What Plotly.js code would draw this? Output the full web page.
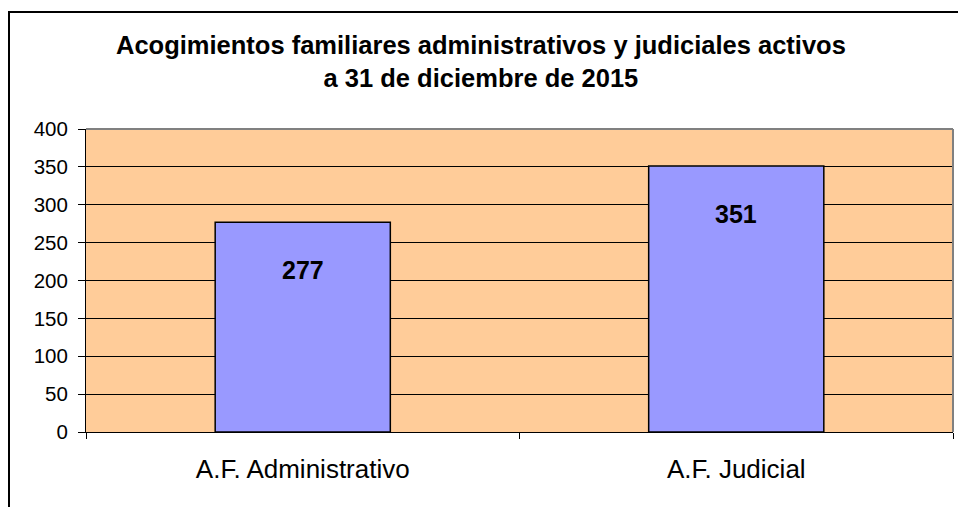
<!DOCTYPE html>
<html>
<head>
<meta charset="utf-8">
<script src="https://cdn.plot.ly/plotly-3.0.1.min.js"></script>
<style>html,body{margin:0;padding:0;background:#fff;}#chart{width:958px;height:507px;}</style>
</head>
<body>
<div id="chart"></div>
<script>
const categories = ["A.F. Administrativo", "A.F. Judicial"];
const values = [277, 351];
const yTicks = [0, 50, 100, 150, 200, 250, 300, 350, 400];
const titleText = "Acogimientos familiares administrativos y judiciales activos<br>a 31 de diciembre de 2015";

const W = 958, H = 507;
const L = 86, R = 5, T = 129, B = 75;
const pw = W - L - R, ph = H - T - B;
const px = x => (x - L) / pw;
const py = y => (H - B - y) / ph;

const trace = {
  type: "bar",
  x: categories,
  y: values,
  marker: { color: "#9999FF", line: { color: "#000000", width: 1.5 } },
  hoverinfo: "none"
};

const annotations = categories.map((c, i) => ({
  x: c, y: values[i], xref: "x", yref: "y",
  text: "<b>" + values[i] + "</b>",
  showarrow: false, yshift: -48, yanchor: "middle",
  font: { family: "Liberation Sans, Arial, sans-serif", size: 25, color: "#000" }
}));

const shapes = [
  { type: "line", xref: "paper", yref: "paper", x0: 0, x1: 1, y0: 1, y1: 1, line: { color: "#808080", width: 2 } },
  { type: "line", xref: "paper", yref: "paper", x0: 1, x1: 1, y0: 0, y1: 1, line: { color: "#808080", width: 2 } },
  { type: "rect", xref: "paper", yref: "paper", x0: px(9), x1: px(962), y0: py(12), y1: py(512), line: { color: "#000", width: 2 }, fillcolor: "rgba(0,0,0,0)", layer: "above" }
];

const layout = {
  width: W, height: H,
  margin: { l: L, r: R, t: T, b: B, pad: 0 },
  paper_bgcolor: "#ffffff",
  plot_bgcolor: "#FFCC99",
  showlegend: false,
  bargap: 0.596,
  font: { family: "Liberation Sans, Arial, sans-serif", color: "#000" },
  title: {
    text: "<b>" + titleText + "</b>",
    xref: "container", x: 0.502, xanchor: "center",
    yref: "container", y: 1 - 54 / H, yanchor: "top",
    font: { family: "Liberation Sans, Arial, sans-serif", size: 25.5, color: "#000" }
  },
  xaxis: {
    type: "category",
    showgrid: false,
    showline: true, linecolor: "#000", linewidth: 1,
    ticks: "outside", tickson: "boundaries", ticklen: 6, tickcolor: "#000", tickwidth: 1,
    ticklabelstandoff: 14,
    tickfont: { size: 26, color: "#000" },
    zeroline: false,
    fixedrange: true
  },
  yaxis: {
    range: [0, 400],
    tickvals: yTicks,
    ticktext: yTicks.map(String),
    showgrid: true, gridcolor: "#000", gridwidth: 1,
    showline: true, linecolor: "#000", linewidth: 1,
    ticks: "outside", ticklen: 7, tickcolor: "#000", tickwidth: 1,
    ticklabelstandoff: 6,
    tickfont: { size: 20.5, color: "#000" },
    zeroline: false,
    fixedrange: true
  },
  annotations: annotations,
  shapes: shapes
};

Plotly.newPlot("chart", [trace], layout, { displayModeBar: false, staticPlot: true });
</script>
</body>
</html>
